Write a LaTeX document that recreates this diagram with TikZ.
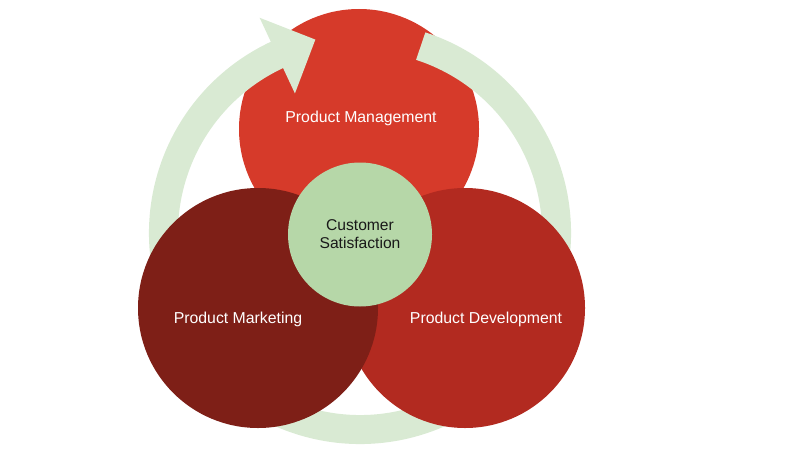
\documentclass[tikz,border=0pt]{standalone}
\usepackage{fontspec}
\setmainfont{Liberation Sans}
\usepackage{tikz}
\usetikzlibrary{positioning}
\definecolor{mgmtred}{HTML}{D63A2A}
\definecolor{devred}{HTML}{B22A20}
\definecolor{mktred}{HTML}{7E1F17}
\definecolor{hubgreen}{HTML}{B6D7A8}
\definecolor{ringgreen}{HTML}{D9EAD3}
\tikzstyle{bubble}=[circle, inner sep=0pt, minimum size=4.8cm]
\tikzstyle{lbl}=[text=white, font=\fontsize{9}{10.2}\selectfont]
\tikzstyle{ring}=[draw=ringgreen, line width=0.58cm]
\newcommand{\Rmid}{3.93}

\begin{document}
\begin{tikzpicture}
\useasboundingbox (0,0) rectangle (16,9);

\coordinate (hub) at (7.2,4.34);

\node[bubble, fill=mgmtred] (mgmt) at (7.18,6.42) {};

% cycle arrow round the hub
\draw[ring] ([shift={(72:\Rmid)}]hub) arc[start angle=72, end angle=-245.5, radius=\Rmid];
\fill[ringgreen] ([shift={(115:3.08)}]hub) -- ([shift={(103:3.97)}]hub) -- ([shift={(115:4.75)}]hub) -- cycle;

\node[bubble, fill=devred] (dev) at (9.3,2.84) {};
\node[bubble, fill=mktred] (mkt) at (5.16,2.84) {};

\node[circle, inner sep=0pt, minimum size=2.88cm, fill=hubgreen, align=center,
      font=\fontsize{8.9}{10.3}\selectfont, text=black!90] (cs) at ([yshift=-0.03cm]hub) {Customer\\Satisfaction};

\node[lbl] (mgmtlbl) at (7.22,6.64) {Product Management};
\node[lbl] (mktlbl) at (4.76,2.62) {Product Marketing};
\node[lbl] (devlbl) at (9.72,2.62) {Product Development};

\end{tikzpicture}
\end{document}
